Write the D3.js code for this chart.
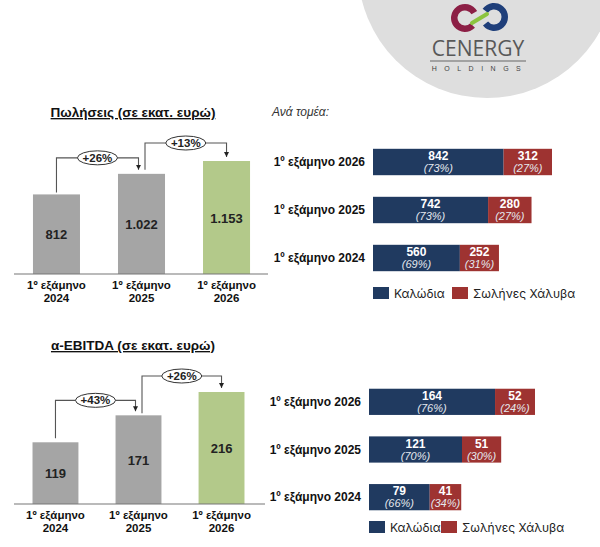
<!DOCTYPE html>
<html><head><meta charset="utf-8">
<script src="https://cdn.jsdelivr.net/npm/d3@7/dist/d3.min.js"></script>
<style>body{margin:0;background:#fff;}svg{display:block;font-family:"Liberation Sans",Arial,sans-serif;}</style>
</head><body>
<svg id="c" width="600" height="547"></svg>
<script>
const years = ["2024", "2025", "2026"];
const catLine1 = "1º εξάμηνο";
const rowLabels = ["1º εξάμηνο 2024", "1º εξάμηνο 2025", "1º εξάμηνο 2026"];
const salesTotal = [812, 1022, 1153];
const salesTotalLabels = ["812", "1.022", "1.153"];
const salesGrowth = ["+26%", "+13%"];
const salesCables = [560, 742, 842];
const salesPipes = [252, 280, 312];
const salesCablesPct = ["(69%)", "(73%)", "(73%)"];
const salesPipesPct = ["(31%)", "(27%)", "(27%)"];
const ebitdaTotal = [119, 171, 216];
const ebitdaTotalLabels = ["119", "171", "216"];
const ebitdaGrowth = ["+43%", "+26%"];
const ebitdaCables = [79, 121, 164];
const ebitdaPipes = [41, 51, 52];
const ebitdaCablesPct = ["(66%)", "(70%)", "(76%)"];
const ebitdaPipesPct = ["(34%)", "(30%)", "(24%)"];
const legendLabels = ["Καλώδια", "Σωλήνες Χάλυβα"];

const svg = d3.select("#c");
const GRAY = "#a5a5a5", GREEN = "#b3c98a", NAVY = "#203a60", RED = "#9e3331";

// logo background
svg.append("circle").attr("cx", 487).attr("cy", -31).attr("r", 129).attr("fill", "#dedede");
const arc = d3.arc();
svg.append("path").attr("transform", "translate(465,18)")
  .attr("d", arc({innerRadius: 7.5, outerRadius: 14, startAngle: 2.35, endAngle: 2 * Math.PI + 1.05}))
  .attr("fill", "#8c1f45");
svg.append("path").attr("transform", "translate(494,17)")
  .attr("d", arc({innerRadius: 7.5, outerRadius: 14, startAngle: -0.95, endAngle: 4.05}))
  .attr("fill", "#1f3f7a");
svg.append("line").attr("x1", 472).attr("y1", 23).attr("x2", 487).attr("y2", 14)
  .attr("stroke", "#8cc43f").attr("stroke-width", 4).attr("stroke-linecap", "round");
svg.append("text").attr("x", 478).attr("y", 56).attr("text-anchor", "middle")
  .attr("font-size", 21).attr("fill", "#585858").attr("font-family", "'Open Sans',sans-serif").text("CENERGY");
svg.append("line").attr("x1", 430).attr("x2", 526).attr("y1", 61).attr("y2", 61).attr("stroke", "#666").attr("stroke-width", 1.2);
svg.append("text").attr("x", 480).attr("y", 71).attr("text-anchor", "middle")
  .attr("font-size", 7).attr("fill", "#444").attr("letter-spacing", 7.5).text("HOLDINGS");

svg.append("defs").append("marker").attr("id", "arr").attr("viewBox", "0 0 10 10")
  .attr("refX", 10).attr("refY", 5).attr("markerWidth", 5).attr("markerHeight", 5)
  .attr("markerUnits", "userSpaceOnUse").attr("orient", "auto")
  .append("path").attr("d", "M0,0L10,5L0,10Z").attr("fill", "#222");

function leftChart(opt) {
  const x = d3.scaleBand().domain(years).range(opt.xr).paddingInner(0.447).paddingOuter(0.223);
  const y = d3.scaleLinear().domain([0, d3.max(opt.values)]).range([opt.base, opt.top]);
  const g = svg.append("g");
  g.append("text").attr("x", 133).attr("y", opt.titleY).attr("text-anchor", "middle")
    .attr("font-size", 13.5).attr("font-weight", "bold").attr("fill", "#111")
    .attr("text-decoration", "underline").text(opt.title);
  g.selectAll("rect.b").data(opt.values).join("rect")
    .attr("x", (d, i) => x(years[i])).attr("width", x.bandwidth())
    .attr("y", d => y(d)).attr("height", d => y(0) - y(d))
    .attr("fill", (d, i) => i === 2 ? GREEN : GRAY);
  g.append("line").attr("x1", 14).attr("x2", opt.lineEnd).attr("y1", y(0)).attr("y2", y(0))
    .attr("stroke", "#777").attr("stroke-width", 1.2);
  g.selectAll("text.v").data(opt.values).join("text")
    .attr("x", (d, i) => x(years[i]) + x.bandwidth() / 2)
    .attr("y", d => (y(d) + y(0)) / 2 + 5).attr("text-anchor", "middle")
    .attr("font-size", 13).attr("font-weight", "bold").attr("fill", "#222")
    .text((d, i) => opt.labels[i]);
  years.forEach((yr, i) => {
    const cx = x(yr) + x.bandwidth() / 2;
    g.append("text").attr("x", cx).attr("y", y(0) + 15).attr("text-anchor", "middle")
      .attr("font-size", 11.5).attr("font-weight", "bold").attr("fill", "#111").text(catLine1);
    g.append("text").attr("x", cx).attr("y", y(0) + 28).attr("text-anchor", "middle")
      .attr("font-size", 11.5).attr("font-weight", "bold").attr("fill", "#111").text(yr);
  });
  opt.growth.forEach((gr, i) => {
    const x1 = x(years[i]) + x.bandwidth() / 2 + opt.offs[i][0];
    const x2 = x(years[i + 1]) + x.bandwidth() / 2 + opt.offs[i][1];
    const yStart = y(opt.values[i]) - opt.gaps[i];
    const yTip = y(opt.values[i + 1]) - 4;
    const lev = y(opt.values[i + 1]) - opt.rise[i];
    g.append("path").attr("d", `M${x1},${yStart}V${lev}H${x2}V${yTip}`)
      .attr("fill", "none").attr("stroke", "#555").attr("stroke-width", 1.1)
      .attr("marker-end", "url(#arr)");
    const mx = (x1 + x2) / 2;
    g.append("ellipse").attr("cx", mx).attr("cy", lev).attr("rx", 20).attr("ry", 7)
      .attr("fill", "#fff").attr("stroke", "#333").attr("stroke-width", 1);
    g.append("text").attr("x", mx).attr("y", lev + 4).attr("text-anchor", "middle")
      .attr("font-size", 11.5).attr("font-weight", "bold").attr("fill", "#222").text(gr);
  });
}

leftChart({title: "Πωλήσεις (σε εκατ. ευρώ)", titleY: 117, values: salesTotal, labels: salesTotalLabels,
  growth: salesGrowth, xr: [14, 269], base: 274, top: 161, lineEnd: 268,
  offs: [[0, -3], [3.5, 0]], gaps: [2, 4], rise: [16, 18]});
leftChart({title: "α-EBITDA (σε εκατ. ευρώ)", titleY: 350, values: ebitdaTotal, labels: ebitdaTotalLabels,
  growth: ebitdaGrowth, xr: [14, 263], base: 504, top: 392, lineEnd: 265,
  offs: [[0, -3], [3.5, 0]], gaps: [4, 2], rise: [15, 16]});

svg.append("text").attr("x", 272).attr("y", 116).attr("font-size", 12).attr("font-style", "italic")
  .attr("fill", "#333").text("Ανά τομέα:");

function rightChart(opt) {
  const total = opt.cables.map((c, i) => c + opt.pipes[i]);
  const x = d3.scaleLinear().domain([0, d3.max(total)]).range([opt.x0, opt.x1]);
  const y = d3.scaleBand().domain(years.slice().reverse()).range(opt.yr).paddingInner(0.45).paddingOuter(0.225);
  const g = svg.append("g");
  years.forEach((yr, i) => {
    const yy = y(yr), h = y.bandwidth(), cy = yy + h / 2;
    g.append("text").attr("x", opt.x0 - 8).attr("y", cy + 4).attr("text-anchor", "end")
      .attr("font-size", 12).attr("font-weight", "bold").attr("fill", "#111").text(rowLabels[i]);
    const segs = [[0, opt.cables[i], NAVY, opt.cables[i], opt.cPct[i]],
                  [opt.cables[i], total[i], RED, opt.pipes[i], opt.pPct[i]]];
    segs.forEach(s => {
      g.append("rect").attr("x", x(s[0])).attr("width", x(s[1]) - x(s[0]))
        .attr("y", yy).attr("height", h).attr("fill", s[2]);
      const mx = (x(s[0]) + x(s[1])) / 2;
      g.append("text").attr("x", mx).attr("y", cy - 2).attr("text-anchor", "middle")
        .attr("font-size", 12).attr("font-weight", "bold").attr("fill", "#fff").text(s[3]);
      g.append("text").attr("x", mx).attr("y", cy + 10).attr("text-anchor", "middle")
        .attr("font-size", 11).attr("font-style", "italic").attr("fill", "#e4e8ee").text(s[4]);
    });
  });
  const lg = g.append("g").attr("transform", `translate(${opt.x0},${opt.legY})`);
  [[NAVY, legendLabels[0], 0], [RED, legendLabels[1], opt.legGap]].forEach(l => {
    lg.append("rect").attr("x", l[2]).attr("y", -6).attr("width", 16).attr("height", 12).attr("fill", l[0]);
    lg.append("text").attr("x", l[2] + 21).attr("y", 4.5).attr("font-size", 12)
      .attr("font-family", "Inter,'Noto Sans',sans-serif").attr("fill", "#222").text(l[1]);
  });
}

rightChart({cables: salesCables, pipes: salesPipes, cPct: salesCablesPct, pPct: salesPipesPct,
  x0: 373, x1: 552, yr: [138, 282], legY: 293, legGap: 79});
rightChart({cables: ebitdaCables, pipes: ebitdaPipes, cPct: ebitdaCablesPct, pPct: ebitdaPipesPct,
  x0: 369, x1: 535, yr: [378, 521], legY: 527, legGap: 72});
</script>
</body></html>
